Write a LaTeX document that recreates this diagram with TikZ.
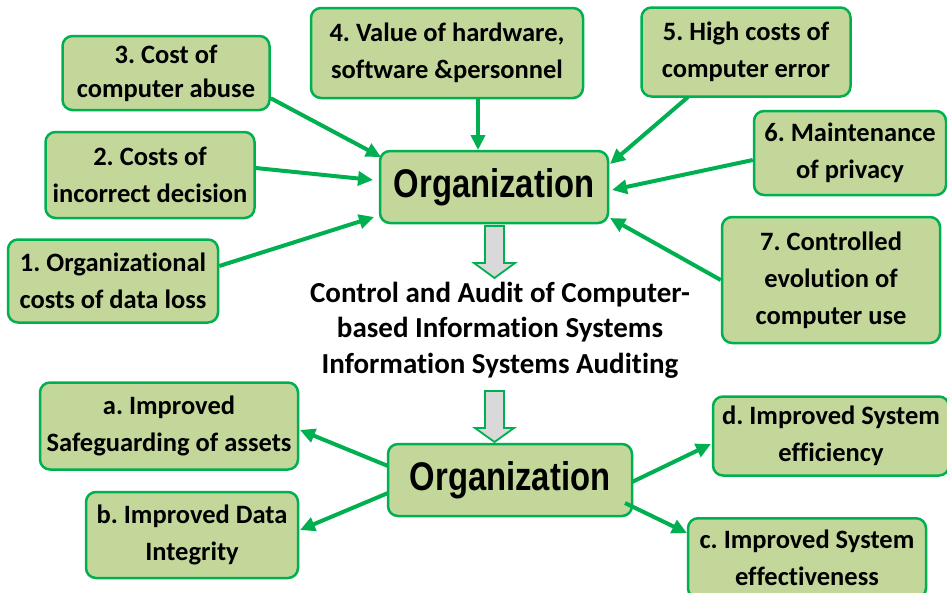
\documentclass[tikz,border=0pt]{standalone}
\usepackage{fontspec}
\setmainfont{Carlito}[RawFeature=-liga]
\newfontfamily\orgfont{Liberation Sans}
\usetikzlibrary{arrows.meta}
\definecolor{ggreen}{HTML}{00B050}
\definecolor{lgreen}{HTML}{C4D79B}
\definecolor{hgray}{HTML}{D9D9D9}
\tikzset{
  box/.style={draw=ggreen, line width=2.5pt, fill=lgreen, rounded corners=10pt,
    align=center, inner sep=0pt, font=\bfseries\fontsize{26.5}{37}\selectfont},
  orgbox/.style={draw=ggreen, line width=2.5pt, fill=lgreen, rounded corners=10pt,
    align=center, inner sep=0pt},
  conn/.style={draw=ggreen, line width=4pt, -{Triangle[length=15pt,width=14pt]}},
  hollow/.style={draw=ggreen, line width=1.8pt, fill=hgray, line join=miter},
}
\newcommand{\orgtext}{\orgfont\bfseries\fontsize{40}{44}\selectfont\raisebox{4pt}{\scalebox{0.82}[1]{Organization}}}
\frenchspacing
\begin{document}
\begin{tikzpicture}[x=1pt,y=-1pt]
\useasboundingbox (0,0) rectangle (947,592);
% top level
\node[orgbox, minimum width=228pt, minimum height=72pt] (org1) at (494,187) {\orgtext};
\node[box, minimum width=207pt, minimum height=74pt] (b3) at (166,73) {\raisebox{-3pt}{3. Cost of}\\computer abuse};
\node[box, minimum width=272pt, minimum height=90pt] (b4) at (447,53) {4. Value of hardware,\\software \&personnel};
\node[box, minimum width=209pt, minimum height=89pt] (b5) at (746,52) {5. High costs of\\computer error};
\node[box, minimum width=209pt, minimum height=86pt] (b2) at (150,175) {2. Costs of\\incorrect decision};
\node[box, minimum width=192pt, minimum height=84pt] (b6) at (850,153) {6. Maintenance\\of privacy};
\node[box, minimum width=210pt, minimum height=83pt] (b1) at (113,281) {1. Organizational\\costs of data loss};
\node[box, minimum width=218pt, minimum height=126pt] (b7) at (831,280) {7. Controlled\\evolution of\\computer use};
% middle text
\node[align=center, inner sep=0pt, font=\bfseries\fontsize{29}{35.5}\selectfont] (mid) at (500,330)
  {Control and Audit of Computer-\\based Information Systems\\Information Systems Auditing};
% bottom level
\node[orgbox, minimum width=244pt, minimum height=72pt] (org2) at (510,480) {\orgtext};
\node[box, minimum width=258pt, minimum height=87pt] (ba) at (169,426) {a. Improved\\Safeguarding of assets};
\node[box, minimum width=212pt, minimum height=86pt] (bb) at (192,535) {b. Improved Data\\Integrity};
\node[box, minimum width=236pt, minimum height=79pt] (bd) at (831,436) {d. Improved System\\efficiency};
\node[box, minimum width=238pt, minimum height=80pt, anchor=north] (bc) at (807,517) {c. Improved System\\effectiveness};
% hollow arrows
\draw[hollow] (485,226) -- (504,226) -- (504,263) -- (515,263) -- (494.5,278) -- (474,263) -- (485,263) -- cycle;
\draw[hollow] (485,391) -- (504,391) -- (504,428) -- (514,428) -- (494.5,442) -- (475,428) -- (485,428) -- cycle;
% connectors into top organization
\coordinate (t3) at (381,157);
\coordinate (t4) at (478,150);
\coordinate (t5) at (610,164);
\coordinate (t2) at (373,180);
\coordinate (t6) at (612,190);
\coordinate (t1) at (374,217);
\coordinate (t7) at (610,218);
\draw[conn] (b3.south east) ++(0,-13) -- (t3);
\draw[conn] (b4.south -| t4) -- (t4);
\draw[conn] (688,97) -- (t5);
\draw[conn] (b2.east) ++(0,-7) -- (t2);
\draw[conn] (b6.west) ++(0,7) -- (t6);
\draw[conn] (b1.east) ++(0,-15) -- (t1);
\draw[conn] (b7.west) -- (t7);
% connectors out of bottom organization
\coordinate (o1) at (388,466);
\coordinate (o2) at (388,493);
\coordinate (o3) at (632,482);
\coordinate (o4) at (625,503);
\draw[conn] (o1) -- (300,430);
\draw[conn] (o2) -- (300,530);
\draw[conn] (o3) -- (711,444);
\draw[conn] (o4) -- (687,533);
\end{tikzpicture}
\end{document}
